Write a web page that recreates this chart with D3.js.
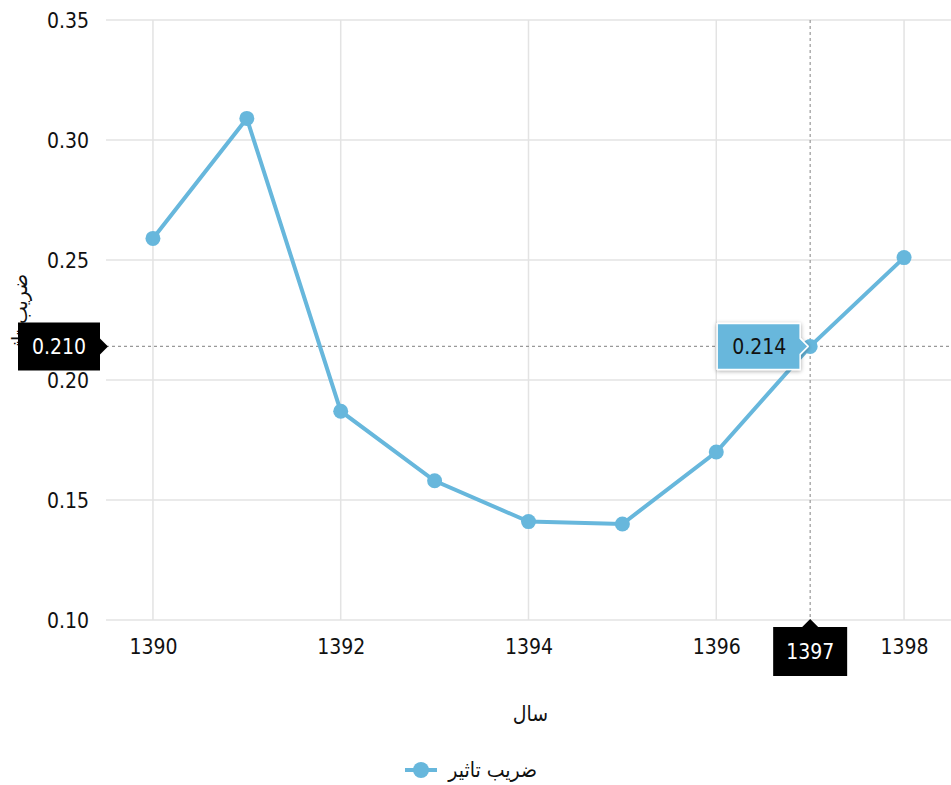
<!DOCTYPE html>
<html>
<head>
<meta charset="utf-8">
<script src="https://cdn.jsdelivr.net/npm/d3@7"></script>
<style>
  body { margin: 0; background: #fff; }
  svg text { font-family: "DejaVu Sans Condensed", "DejaVu Sans", sans-serif; }
</style>
</head>
<body>
<div id="chart"></div>
<script>
var width = 951, height = 785;
var margin = { left: 106, right: 0, top: 20, bottom: 165 };

var years = [1390, 1391, 1392, 1393, 1394, 1395, 1396, 1397, 1398];
var impact = [0.259, 0.309, 0.187, 0.158, 0.141, 0.140, 0.170, 0.214, 0.251];
var yTicks = [0.10, 0.15, 0.20, 0.25, 0.30, 0.35];
var xTicks = [1390, 1392, 1394, 1396, 1398];
var cursorYear = 1397, cursorValue = 0.214, cursorAxisLabel = "0.210";
var seriesName = "ضریب تاثیر", xTitle = "سال";
var lineColor = "#67b7dc";
var fs = 21;

var svg = d3.select("#chart").append("svg")
    .attr("width", width)
    .attr("height", height);

var x = d3.scaleLinear().domain([1389.5, 1398.5]).range([margin.left, width - margin.right]);
var y = d3.scaleLinear().domain([0.10, 0.35]).range([height - margin.bottom, margin.top]);

var defs = svg.append("defs");
var f = defs.append("filter").attr("id", "shadow").attr("x", "-20%").attr("y", "-20%").attr("width", "140%").attr("height", "160%");
f.append("feDropShadow").attr("dx", 0).attr("dy", 1).attr("stdDeviation", 2).attr("flood-color", "#000").attr("flood-opacity", 0.35);

// grid
svg.append("g").selectAll("line")
    .data(yTicks).enter().append("line")
    .attr("x1", x.range()[0]).attr("x2", x.range()[1])
    .attr("y1", function(d) { return y(d); }).attr("y2", function(d) { return y(d); })
    .attr("stroke", "#e3e3e3").attr("stroke-width", 1.5);
svg.append("g").selectAll("line")
    .data(xTicks).enter().append("line")
    .attr("x1", function(d) { return x(d); }).attr("x2", function(d) { return x(d); })
    .attr("y1", y(0.35)).attr("y2", y(0.10))
    .attr("stroke", "#e3e3e3").attr("stroke-width", 1.5);

// axes (labels only)
var yAxis = svg.append("g")
    .attr("transform", "translate(" + (margin.left - 14) + ",0)")
    .call(d3.axisLeft(y).tickValues(yTicks).tickFormat(d3.format(".2f")).tickSize(0));
yAxis.select(".domain").remove();
yAxis.selectAll("text").attr("font-size", fs).attr("fill", "#111").attr("dx", 0).attr("dy", "0.35em");

var xAxis = svg.append("g")
    .attr("transform", "translate(0," + y(0.10) + ")")
    .call(d3.axisBottom(x).tickValues(xTicks).tickFormat(d3.format("d")).tickSize(0).tickPadding(19));
xAxis.select(".domain").remove();
xAxis.selectAll("text").attr("font-size", fs).attr("fill", "#111");

// titles
svg.append("text")
    .attr("x", (margin.left + width) / 2 + 2).attr("y", 721)
    .attr("text-anchor", "middle").attr("font-size", fs).attr("fill", "#111")
    .attr("font-family", "DejaVu Sans")
    .text(xTitle);
svg.append("text")
    .attr("transform", "translate(27," + ((y(0.10) + y(0.35)) / 2 - 2) + ") rotate(-90)")
    .attr("text-anchor", "middle").attr("font-size", fs).attr("fill", "#111")
    .attr("font-family", "DejaVu Sans")
    .text(seriesName);

// cursor lines
svg.append("line")
    .attr("x1", x(cursorYear)).attr("x2", x(cursorYear))
    .attr("y1", y(0.35)).attr("y2", y(0.10))
    .attr("stroke", "#999").attr("stroke-dasharray", "3,3").attr("stroke-width", 1.2);
svg.append("line")
    .attr("x1", x.range()[0]).attr("x2", x.range()[1])
    .attr("y1", y(cursorValue)).attr("y2", y(cursorValue))
    .attr("stroke", "#999").attr("stroke-dasharray", "3,3").attr("stroke-width", 1.2);

// series
var pts = years.map(function(d, i) { return { year: d, value: impact[i] }; });
var line = d3.line().x(function(d) { return x(d.year); }).y(function(d) { return y(d.value); });
svg.append("path").datum(pts)
    .attr("d", line).attr("fill", "none")
    .attr("stroke", lineColor).attr("stroke-width", 4);
svg.append("g").selectAll("circle")
    .data(pts).enter().append("circle")
    .attr("cx", function(d) { return x(d.year); })
    .attr("cy", function(d) { return y(d.value); })
    .attr("r", 7.5).attr("fill", lineColor);

// tooltip
var tx = x(cursorYear), ty = y(cursorValue);
var tip = svg.append("g");
tip.append("path")
    .attr("d", "M" + (tx - 93) + "," + (ty - 23) + " h83 v15 l8,8 l-8,8 v15 h-83 z")
    .attr("fill", lineColor).attr("stroke", "#fff").attr("stroke-width", 1.5)
    .attr("filter", "url(#shadow)").attr("stroke-linejoin", "round");
tip.append("text")
    .attr("x", tx - 51).attr("y", ty).attr("dy", "0.35em")
    .attr("text-anchor", "middle").attr("font-size", fs).attr("fill", "#111")
    .text(d3.format(".3f")(cursorValue));

// y cursor label
svg.append("path")
    .attr("d", "M18," + (ty - 24) + " h82 v16 l8,8 l-8,8 v16 h-82 z")
    .attr("fill", "#000");
svg.append("text")
    .attr("x", 59).attr("y", ty).attr("dy", "0.35em")
    .attr("text-anchor", "middle").attr("font-size", fs).attr("fill", "#fff")
    .text(cursorAxisLabel);

// x cursor label
var by = y(0.10);
svg.append("path")
    .attr("d", "M" + (tx - 37) + "," + (by + 7) + " h29 l8,-8 l8,8 h29 v49 h-74 z")
    .attr("fill", "#000");
svg.append("text")
    .attr("x", tx).attr("y", by + 32).attr("dy", "0.35em")
    .attr("text-anchor", "middle").attr("font-size", fs).attr("fill", "#fff")
    .text(cursorYear);

// legend
var lg = svg.append("g").attr("transform", "translate(421,770)");
lg.append("line").attr("x1", -16).attr("x2", 16).attr("stroke", lineColor).attr("stroke-width", 4);
lg.append("circle").attr("r", 8).attr("fill", lineColor);
lg.append("text")
    .attr("x", 116).attr("dy", "0.35em")
    .attr("text-anchor", "end").attr("font-size", fs).attr("fill", "#111")
    .attr("font-family", "DejaVu Sans")
    .text(seriesName);
</script>
</body>
</html>
